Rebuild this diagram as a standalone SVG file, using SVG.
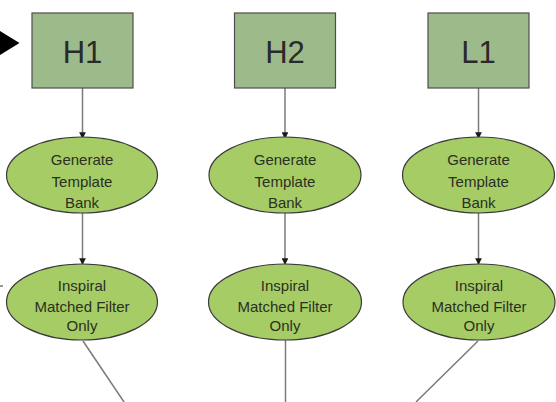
<svg xmlns="http://www.w3.org/2000/svg" width="556" height="402" viewBox="0 0 556 402">
<style>
.box{fill:#9dba8b;stroke:#4d4d4d;stroke-width:1.2}
.ell{fill:#a6cc66;stroke:#3a3a3a;stroke-width:1.2}
.bt{font-family:"Liberation Sans",Arial,sans-serif;font-size:31px;fill:#2a2a2a;text-anchor:middle}
.et{font-family:"Liberation Sans",Arial,sans-serif;font-size:15px;fill:#2a3022;text-anchor:middle}
.ln{stroke:#7a7a7a;stroke-width:1.5;fill:none}
.la{stroke:#7a7a7a;stroke-width:1.5;fill:none;marker-end:url(#ah)}
</style>
<defs>
<marker id="ah" viewBox="0 0 6 6" refX="6" refY="3" markerWidth="4.5" markerHeight="4.5" orient="auto" markerUnits="strokeWidth">
<path d="M0,0 L6,3 L0,6 z" fill="#1a1a1a"/>
</marker>
</defs>
<rect width="556" height="402" fill="#ffffff"/>
<g id="connectors">
<polygon points="0,31 19.5,43 0,55" fill="#000000"/>
<line x1="0" y1="286" x2="3" y2="286" stroke="#333" stroke-width="1"/>
<line class="la" x1="82.5" y1="88" x2="82.5" y2="139"/>
<line class="la" x1="285" y1="88" x2="285" y2="139"/>
<line class="la" x1="478.5" y1="88" x2="478.5" y2="139"/>
<line class="la" x1="82.5" y1="213" x2="82.5" y2="265"/>
<line class="la" x1="285" y1="213" x2="285" y2="265"/>
<line class="la" x1="478.5" y1="213" x2="478.5" y2="265"/>
<line class="ln" x1="83" y1="341" x2="124" y2="402"/>
<line class="ln" x1="285.5" y1="340" x2="285.5" y2="402"/>
<line class="ln" x1="478" y1="341" x2="416" y2="402"/>
</g>
<g id="H1"><rect class="box" x="32" y="13" width="101" height="75"/><text class="bt" x="82.5" y="62.5">H1</text></g>
<g id="H2"><rect class="box" x="234.5" y="13" width="101" height="75"/><text class="bt" x="285" y="62.5">H2</text></g>
<g id="L1"><rect class="box" x="428" y="13" width="101" height="75"/><text class="bt" x="478.5" y="62.5">L1</text></g>
<g id="tmpl1"><ellipse class="ell" cx="82" cy="175" rx="75.5" ry="38"/><text class="et" x="82" y="165">Generate</text><text class="et" x="82" y="186.5">Template</text><text class="et" x="82" y="208">Bank</text></g>
<g id="tmpl2"><ellipse class="ell" cx="285" cy="175" rx="76" ry="38"/><text class="et" x="285" y="165">Generate</text><text class="et" x="285" y="186.5">Template</text><text class="et" x="285" y="208">Bank</text></g>
<g id="tmpl3"><ellipse class="ell" cx="478.5" cy="175" rx="76" ry="38"/><text class="et" x="478.5" y="165">Generate</text><text class="et" x="478.5" y="186.5">Template</text><text class="et" x="478.5" y="208">Bank</text></g>
<g id="insp1"><ellipse class="ell" cx="82" cy="302" rx="75.5" ry="38"/><text class="et" x="82" y="291">Inspiral</text><text class="et" x="82" y="311.5">Matched Filter</text><text class="et" x="82" y="331">Only</text></g>
<g id="insp2"><ellipse class="ell" cx="285" cy="302" rx="76.5" ry="38"/><text class="et" x="285" y="291">Inspiral</text><text class="et" x="285" y="311.5">Matched Filter</text><text class="et" x="285" y="331">Only</text></g>
<g id="insp3"><ellipse class="ell" cx="479" cy="302" rx="76" ry="38"/><text class="et" x="479" y="291">Inspiral</text><text class="et" x="479" y="311.5">Matched Filter</text><text class="et" x="479" y="331">Only</text></g>
</svg>
